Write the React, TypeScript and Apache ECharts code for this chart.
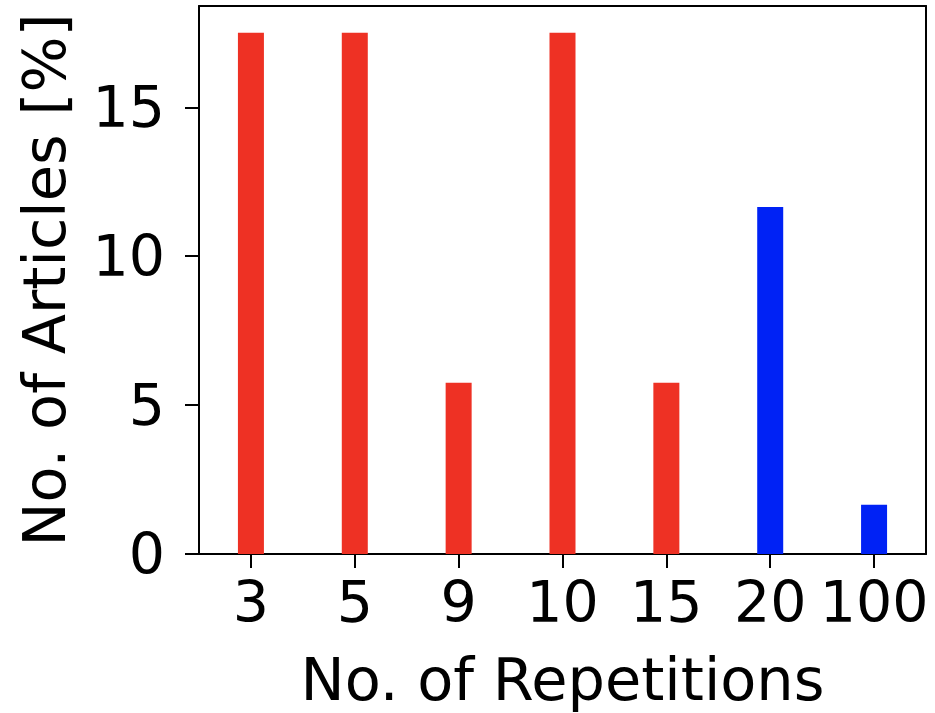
import React, { useEffect, useRef } from "react";
import * as echarts from "echarts";

const categories = ["3", "5", "9", "10", "15", "20", "100"];
const values = [17.5, 17.5, 5.75, 17.5, 5.75, 11.65, 1.65];
const barColors = ["#ee3124", "#ee3124", "#ee3124", "#ee3124", "#ee3124", "#0022f5", "#0022f5"];
const yTicks = { min: 0, max: 18.4, interval: 5 };

export default function App() {
  const ref = useRef<HTMLDivElement>(null);
  useEffect(() => {
    if (!ref.current) return;
    const chart = echarts.init(ref.current, null, { renderer: "svg" });
    const font = "DejaVu Sans";
    const line = { show: true, onZero: false, lineStyle: { color: "#000", width: 2 } };
    const tick = { show: true, length: 14, lineStyle: { color: "#000", width: 2 } };
    chart.setOption({
      animation: false,
      backgroundColor: "#fff",
      grid: {
        left: 199,
        right: 9,
        top: 6,
        bottom: 159,
        containLabel: false,
        outerBoundsMode: "none",
        show: false,
      },
      xAxis: [
        {
          type: "category",
          data: categories,
          position: "bottom",
          boundaryGap: true,
          name: "No. of Repetitions",
          nameLocation: "middle",
          nameGap: 96,
          nameTextStyle: { fontFamily: font, fontSize: 59, color: "#000" },
          axisLine: line,
          axisTick: { ...tick, alignWithLabel: true },
          axisLabel: { fontFamily: font, fontSize: 57, color: "#000", margin: 19, interval: 0 },
          splitLine: { show: false },
        },
        {
          type: "category",
          data: categories,
          position: "top",
          axisLine: line,
          axisTick: { show: false },
          axisLabel: { show: false },
          splitLine: { show: false },
        },
      ],
      yAxis: [
        {
          type: "value",
          position: "left",
          min: yTicks.min,
          max: yTicks.max,
          interval: yTicks.interval,
          name: "No. of Articles [%]",
          nameLocation: "middle",
          nameGap: 125,
          nameTextStyle: { fontFamily: font, fontSize: 59, color: "#000" },
          axisLine: line,
          axisTick: tick,
          axisLabel: { fontFamily: font, fontSize: 57, color: "#000", margin: 34, showMaxLabel: false },
          splitLine: { show: false },
        },
        {
          type: "value",
          position: "right",
          min: yTicks.min,
          max: yTicks.max,
          interval: yTicks.interval,
          axisLine: line,
          axisTick: { show: false },
          axisLabel: { show: false },
          splitLine: { show: false },
        },
      ],
      series: [
        {
          type: "bar",
          barWidth: 26,
          data: values.map((v, i) => ({ value: v, itemStyle: { color: barColors[i] } })),
        },
      ],
    });
    return () => chart.dispose();
  }, []);
  return <div ref={ref} style={{ width: 935, height: 713, position: "absolute", left: 0, top: 0 }} />;
}
